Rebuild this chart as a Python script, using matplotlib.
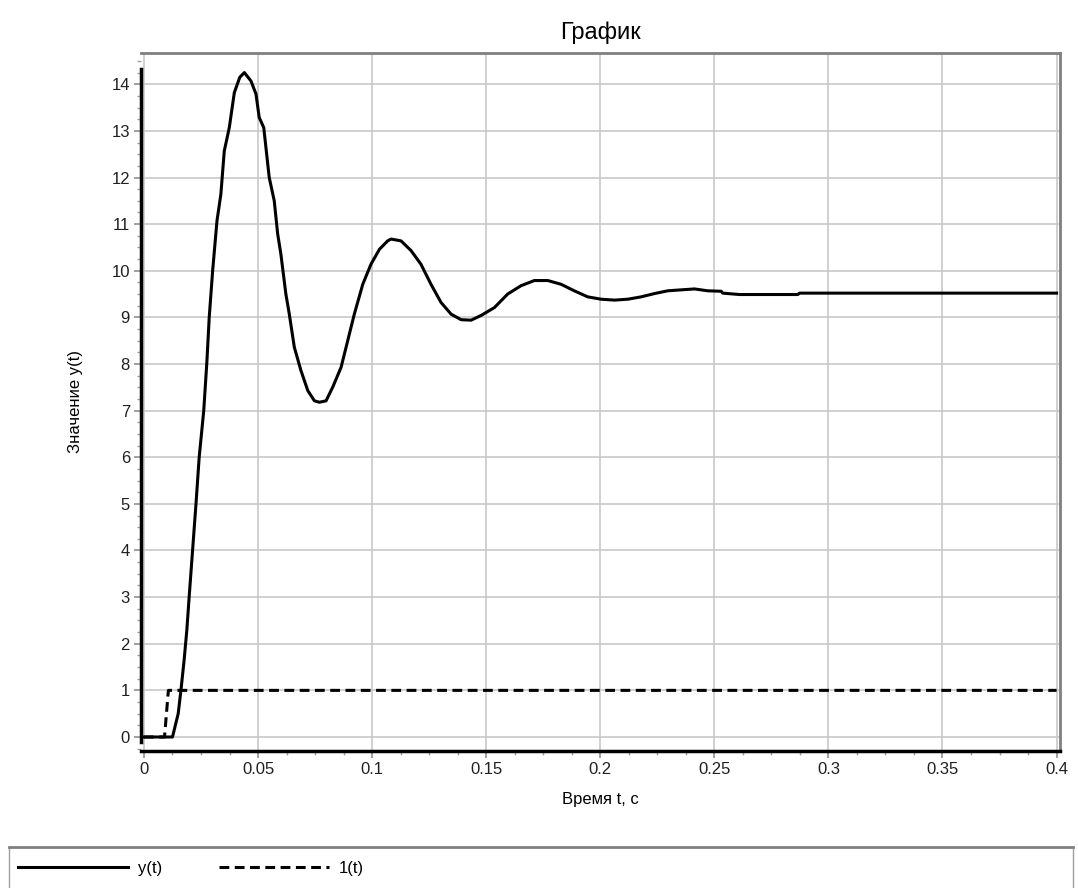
import matplotlib.pyplot as plt
from matplotlib.ticker import MultipleLocator

plt.rcParams['font.family'] = ['Liberation Sans', 'DejaVu Sans']

# переходная характеристика y(t)
t_y = [0, 0.0125, 0.0150, 0.0162, 0.0176, 0.0188, 0.0198, 0.0213, 0.0228, 0.0242,
       0.0262, 0.0276, 0.0286, 0.0301, 0.0320, 0.0337, 0.0352, 0.0374, 0.0396, 0.0420,
       0.0440, 0.0469, 0.0491, 0.0505, 0.0525, 0.0549, 0.0571, 0.0586, 0.0600, 0.0622,
       0.0637, 0.0659, 0.0688, 0.0718, 0.0747, 0.0769, 0.0798, 0.0827, 0.0864, 0.0893,
       0.0922, 0.0959, 0.0995, 0.1032, 0.1068, 0.1083, 0.1127, 0.1171, 0.1214, 0.1258,
       0.1302, 0.1346, 0.1390, 0.1434, 0.1477, 0.1536, 0.1594, 0.1653, 0.1711, 0.1770,
       0.1828, 0.1886, 0.1945, 0.2003, 0.2062, 0.2121, 0.2179, 0.2237, 0.2296, 0.2354,
       0.2413, 0.2471, 0.2530, 0.2537, 0.2610, 0.2866, 0.2873, 0.4]
y = [0, 0, 0.5, 1.0, 1.65, 2.3, 3.0, 4.0, 5.0, 6.0,
     7.0, 8.07, 9.0, 10.0, 11.07, 11.64, 12.57, 13.07, 13.82, 14.15,
     14.25, 14.07, 13.79, 13.29, 13.07, 12.0, 11.5, 10.79, 10.36, 9.5,
     9.07, 8.36, 7.86, 7.43, 7.21, 7.18, 7.21, 7.5, 7.93, 8.5,
     9.07, 9.71, 10.14, 10.46, 10.64, 10.68, 10.64, 10.43, 10.14, 9.71,
     9.32, 9.07, 8.95, 8.94, 9.04, 9.21, 9.5, 9.68, 9.79, 9.79,
     9.71, 9.57, 9.44, 9.39, 9.37, 9.39, 9.44, 9.51, 9.57, 9.59,
     9.61, 9.57, 9.56, 9.52, 9.49, 9.49, 9.52, 9.52]

# единичный скачок 1(t)
t_step = [0, 0.0090, 0.0107, 0.4]
step = [0, 0, 1, 1]

fig = plt.figure(figsize=(10.78, 8.88), dpi=100)
ax = fig.add_axes([0.1308, 0.1543, 0.8525, 0.786])

ax.plot(t_y, y, color='black', lw=2.2, label='y(t)', zorder=3)
ax.plot(t_step, step, color='black', lw=2.2, dashes=(3.2, 1.8), label='1(t)', zorder=3)

ax.set_xlim(-0.0013, 0.4015)
ax.set_ylim(-0.3, 14.67)
ax.xaxis.set_minor_locator(MultipleLocator(0.0125))
ax.yaxis.set_major_locator(MultipleLocator(1))
ax.yaxis.set_minor_locator(MultipleLocator(0.25))
ax.set_xticks([0, 0.05, 0.1, 0.15, 0.2, 0.25, 0.3, 0.35, 0.4])
ax.set_xticklabels(['0', '0.05', '0.1', '0.15', '0.2', '0.25', '0.3', '0.35', '0.4'])
ax.grid(True, which='major', color='#c8c8c8', lw=1.2)
ax.set_axisbelow(True)

ax.tick_params(which='major', length=5, width=1.2, color='#909090',
               labelsize=12, labelcolor='#202020', pad=3)
ax.tick_params(which='minor', length=3, width=1, color='#a0a0a0')

ax.spines['left'].set_color('black')
ax.spines['left'].set_linewidth(2.5)
ax.spines['left'].set_bounds(-0.1, 14.33)
ax.spines['bottom'].set_color('black')
ax.spines['bottom'].set_linewidth(2.5)
ax.spines['top'].set_color('#808080')
ax.spines['top'].set_linewidth(2)
ax.spines['right'].set_color('#808080')
ax.spines['right'].set_linewidth(2)

ax.set_title('График', fontsize=17, pad=10)
ax.set_xlabel('Время t, с', fontsize=12, labelpad=11)
ax.set_ylabel('Значение y(t)', fontsize=12, labelpad=20)

# рамка легенды внизу
box = plt.Rectangle((9 / 1078, -0.01), 1064 / 1078, 41 / 888 + 0.01,
                    transform=fig.transFigure, facecolor='white',
                    edgecolor='#a0a0a0', lw=1)
fig.add_artist(box)
fig.add_artist(plt.Line2D([9 / 1078, 1073 / 1078], [41 / 888, 41 / 888],
                          transform=fig.transFigure, color='#808080', lw=2))

leg = fig.legend(loc='center left', bbox_to_anchor=(0.003, 20 / 888), ncol=2,
                 frameon=False, fontsize=12, handlelength=6.6, handletextpad=0.6,
                 columnspacing=3.4)

fig.savefig('out.png', dpi=100)
